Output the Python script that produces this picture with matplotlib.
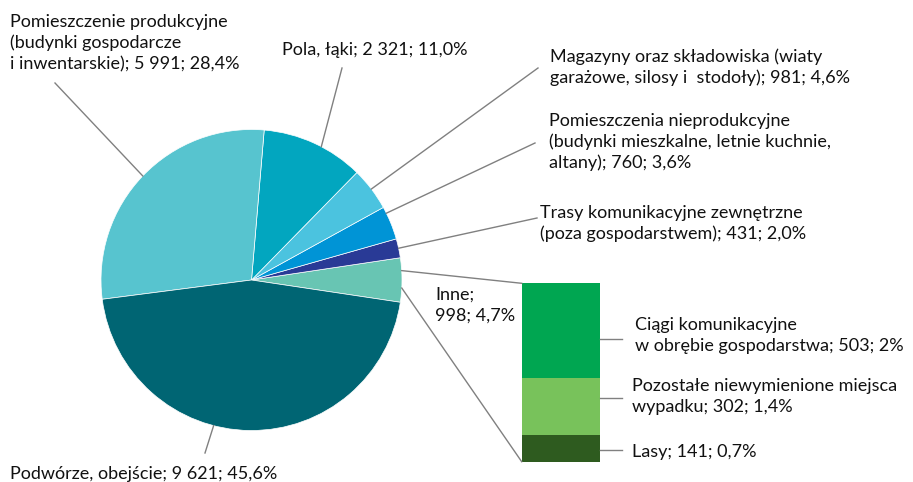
import matplotlib.pyplot as plt

plt.rcParams['font.family'] = ['Lato', 'DejaVu Sans']

# pie slices, counterclockwise from the split-out "Inne" slice
pie_labels = [
    'Inne;\n998; 4,7%',
    'Trasy komunikacyjne zewnętrzne\n(poza gospodarstwem); 431; 2,0%',
    'Pomieszczenia nieprodukcyjne\n(budynki mieszkalne, letnie kuchnie,\naltany); 760; 3,6%',
    'Magazyny oraz składowiska (wiaty\ngarażowe, silosy i  stodoły); 981; 4,6%',
    'Pola, łąki; 2 321; 11,0%',
    'Pomieszczenie produkcyjne\n(budynki gospodarcze\ni inwentarskie); 5 991; 28,4%',
    'Podwórze, obejście; 9 621; 45,6%',
]
pie_values = [998, 431, 760, 981, 2321, 5991, 9621]
pie_colors = ['#68C5B3', '#293A96', '#0094D6', '#4BC3DF', '#02A6BF', '#57C4CF', '#006573']

# breakdown of "Inne", top to bottom
bar_labels = [
    'Ciągi komunikacyjne\nw obrębie gospodarstwa; 503; 2%',
    'Pozostałe niewymienione miejsca\nwypadku; 302; 1,4%',
    'Lasy; 141; 0,7%',
]
bar_values = [503, 302, 141]
bar_colors = ['#00A651', '#78C25B', '#2E5B1F']

FS = 13
LINE_GAP = 21.2
GREY = '#808080'

fig = plt.figure(figsize=(9.13, 4.82), dpi=100)
ax = fig.add_axes([0, 0, 1, 1])

cx, cy, r = 251.5, 280, 150.5
inne_share = pie_values[0] / sum(pie_values)
# y axis is flipped below, so counterclock=False gives a counterclockwise pie on screen
wedges, _ = ax.pie(pie_values, colors=pie_colors, center=(cx, cy), radius=r,
                   startangle=180 * inne_share, counterclock=False,
                   wedgeprops=dict(edgecolor='white', linewidth=0.5))
ax.set_xlim(0, 913)
ax.set_ylim(482, 0)
ax.set_aspect('equal')
ax.axis('off')


def put_text(x, y, text):
    for i, line in enumerate(text.split('\n')):
        ax.text(x, y + i * LINE_GAP, line, fontsize=FS, va='baseline', ha='left', color='#111111')


def edge_point(angle):
    import math
    a = math.radians(angle)
    return cx + r * math.cos(a), cy + r * math.sin(a)


# label layout: text anchor (x, first baseline), leader end, angle shift on screen
pie_layout = [
    ((435, 299.5), None, 0),
    ((540, 218.3), (537, 218), 0),
    ((549, 126), (535, 143), 4),
    ((550, 61.7), (538, 68), 0),
    ((282, 55), (342, 68), -3),
    ((10, 26.7), (55, 83), 0),
    ((10, 478.7), (205, 453), -14),
]

for w, lab, (txt, end, shift) in zip(wedges, pie_labels, pie_layout):
    put_text(txt[0], txt[1], lab)
    if end is not None:
        mid = (w.theta1 + w.theta2) / 2 - shift
        x0, y0 = edge_point(mid)
        ax.plot([x0, end[0]], [y0, end[1]], color=GREY, lw=1.0)

# bar for "Inne"
bar_left, bar_right = 521.7, 600
bar_top, bar_bottom = 283.3, 461.7
scale = (bar_bottom - bar_top) / sum(bar_values)
bottom = bar_top
for v, c in zip(bar_values, bar_colors):
    ax.bar((bar_left + bar_right) / 2, v * scale, width=bar_right - bar_left,
           bottom=bottom, color=c, linewidth=0)
    bottom += v * scale

# connectors pie -> bar
w0 = wedges[0]
half = (w0.theta2 - w0.theta1) / 2
mid0 = (w0.theta1 + w0.theta2) / 2
x1, y1 = edge_point(mid0 - 0.42 * half)
x2, y2 = edge_point(mid0 + 0.36 * half)
ax.plot([x1, bar_left], [y1, bar_top], color=GREY, lw=1.0)
ax.plot([x2, bar_left], [y2, bar_bottom], color=GREY, lw=1.0)

bar_text = [(635, 330), (632, 391), (632, 457)]
bar_lead_y = [339.3, 397.7, 450]
for lab, (tx, ty), ly in zip(bar_labels, bar_text, bar_lead_y):
    put_text(tx, ty, lab)
    ax.plot([bar_right, 621.7], [ly, ly], color=GREY, lw=1.0)

fig.savefig('out.png', dpi=100)
